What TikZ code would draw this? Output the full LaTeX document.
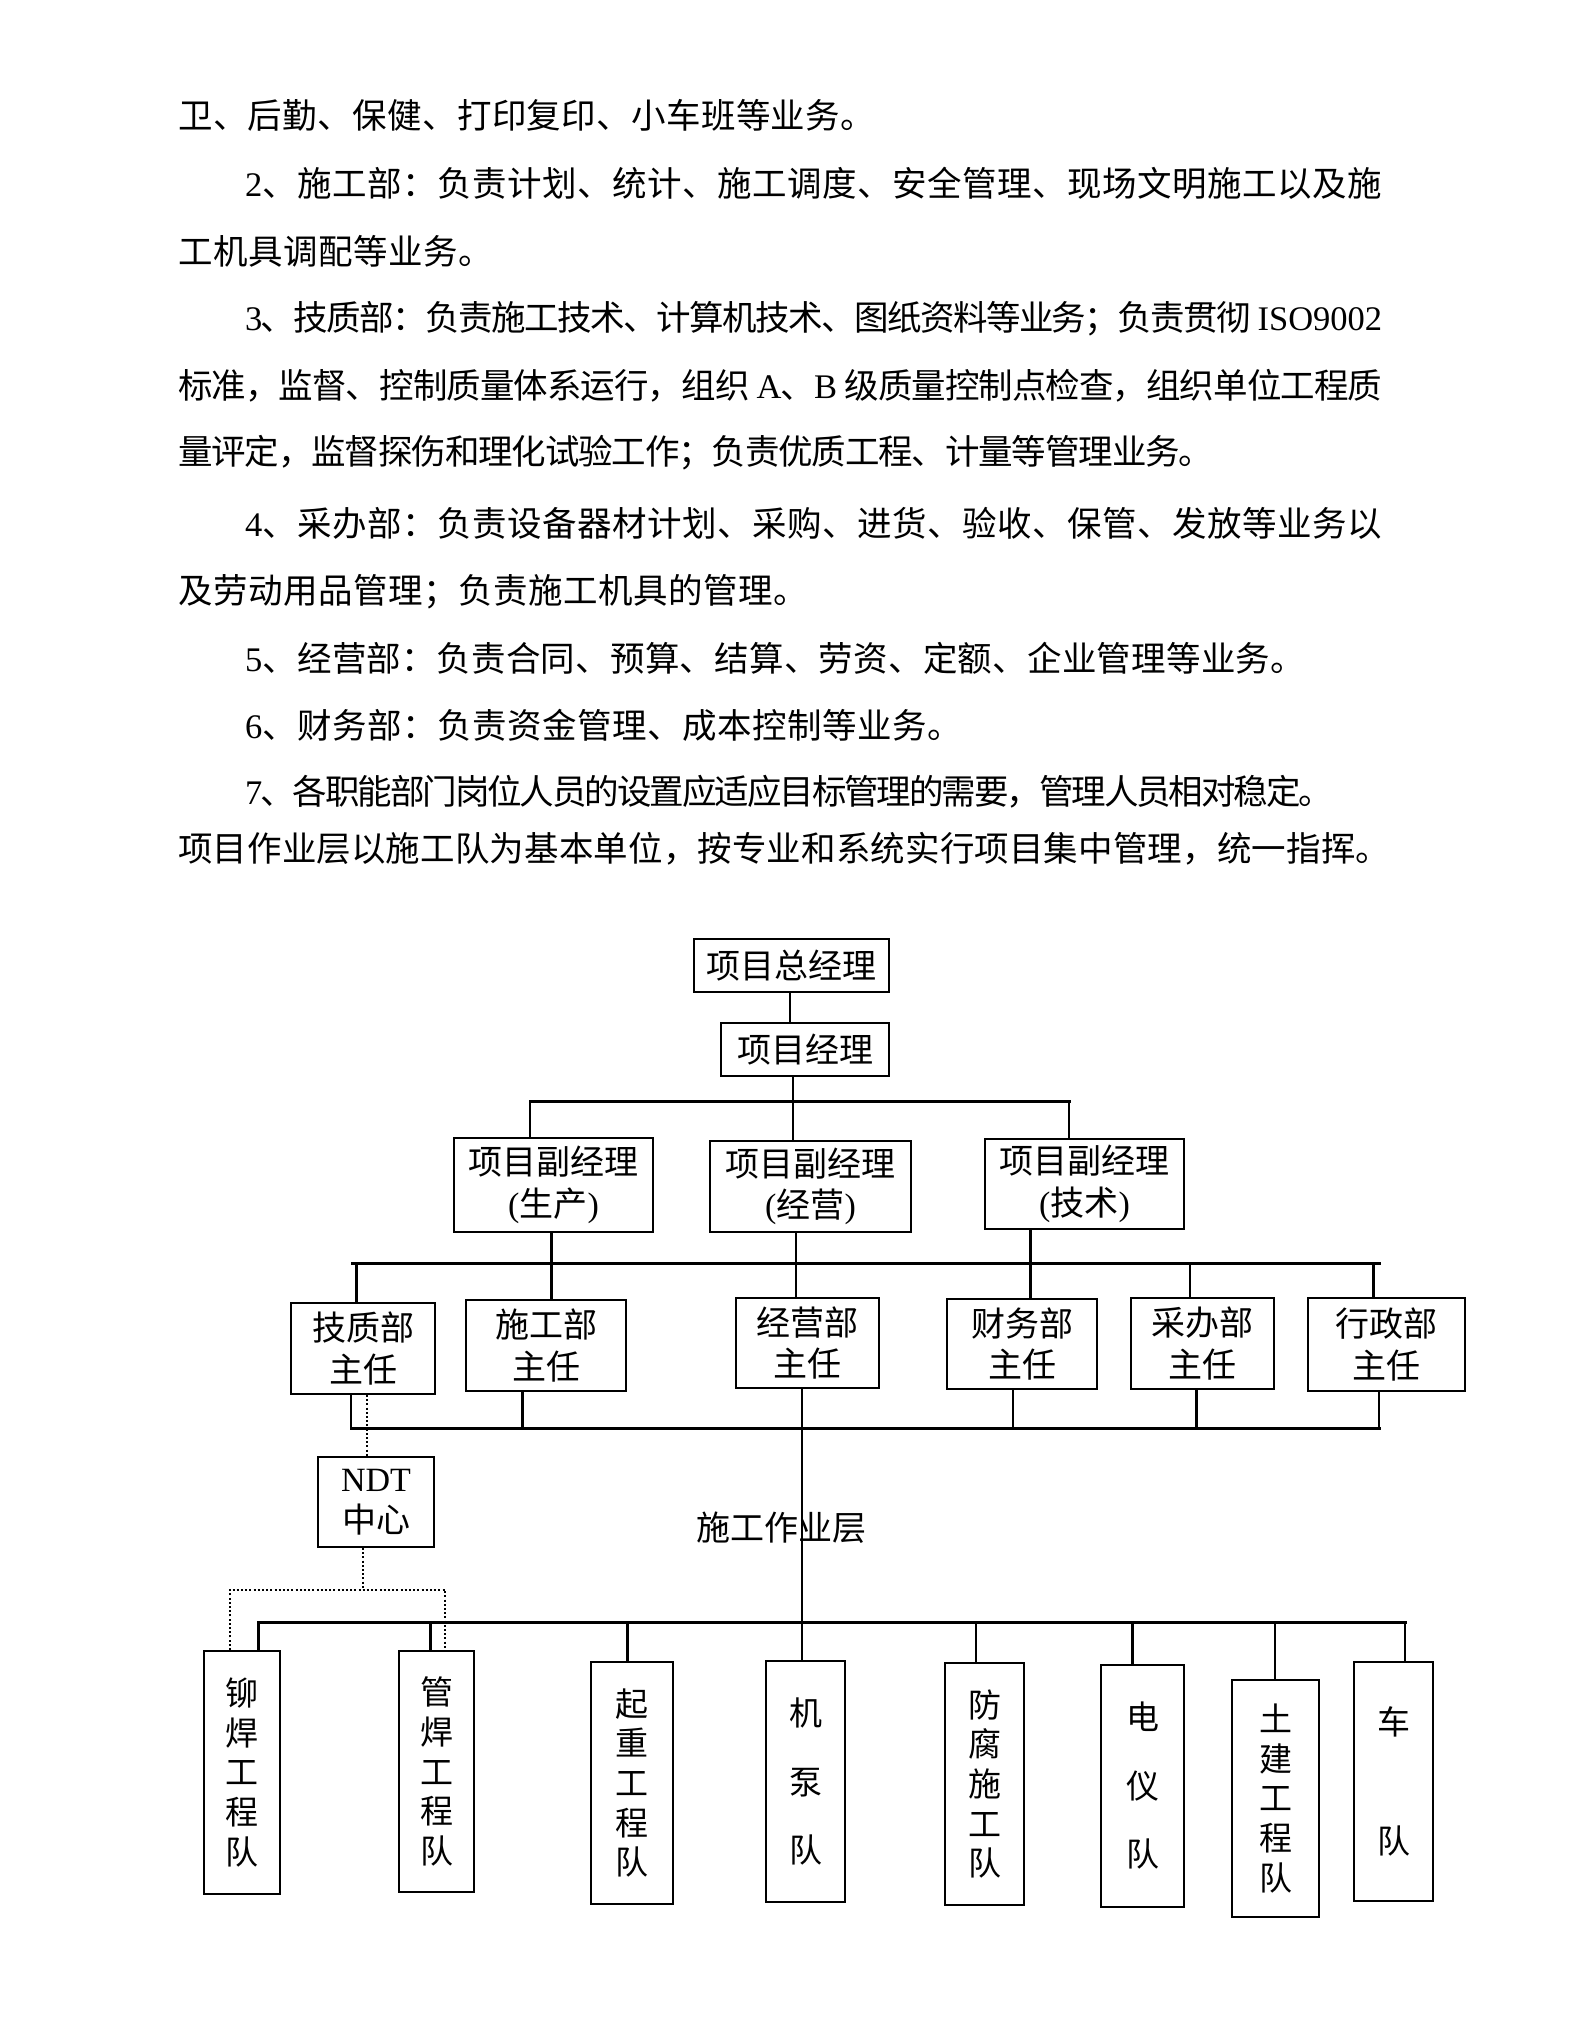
\documentclass[tikz,border=0pt]{standalone}
\usepackage{fontspec}
\setmainfont{Noto Sans CJK SC}
\newfontfamily\latf{Liberation Serif}
\newcommand\lat[1]{{\latf #1}}
\makeatletter
\def\jl@endmark{\jl@end}
\newcommand\jline[2]{\makebox[#1][s]{\jl@first#2\jl@end}}
\def\jl@first#1{#1\jl@loop}
\def\jl@loop#1{\def\jl@arg{#1}\ifx\jl@arg\jl@endmark\else\hskip0pt plus 1fil minus 6pt\relax#1\expandafter\jl@loop\fi}
\makeatother
\tikzset{
  box/.style={draw, line width=2pt, inner sep=0pt, anchor=north west, align=center,
    font=\fontsize{34}{41.5}\selectfont},
  vbox/.style={draw, line width=2pt, inner sep=0pt, anchor=north west, align=center},
  five/.style={font=\fontsize{33}{39.7}\selectfont},
  three/.style={font=\fontsize{33}{68.5}\selectfont},
  two/.style={font=\fontsize{33}{119.5}\selectfont},
  bus/.style={line width=3pt, line cap=rect},
  conn/.style={line width=2.5pt},
  dotc/.style={line width=2pt, dash pattern=on 2pt off 2.2pt},
  body/.style={anchor=west, inner sep=0pt, font=\fontsize{34.5}{40}\selectfont},
}
\begin{document}
\begin{tikzpicture}[x=1pt,y=-1pt]
\useasboundingbox (0,0) rectangle (1582,2028);

% ---- body text ----
\node[body] (l1) at (178,115) {\jline{697pt}{卫、后勤、保健、打印复印、小车班等业务。}};
\node[body] (l2) at (245,183) {\jline{1137pt}{{\lat{2}}、施工部：负责计划、统计、施工调度、安全管理、现场文明施工以及施}};
\node[body] (l3) at (178,251) {\jline{315pt}{工机具调配等业务。}};
\node[body] (l4) at (245,318.5) {\jline{1137pt}{{\lat{3}}、技质部：负责施工技术、计算机技术、图纸资料等业务；负责贯彻{\lat{\ ISO9002}}}};
\node[body] (l5) at (178,385.5) {\jline{1204pt}{标准，监督、控制质量体系运行，组织{\lat{\ A}}、{\lat{B\ }}级质量控制点检查，组织单位工程质}};
\node[body] (l6) at (178,453) {\jline{1035pt}{量评定，监督探伤和理化试验工作；负责优质工程、计量等管理业务。}};
\node[body] (l7) at (245,523) {\jline{1137pt}{{\lat{4}}、采办部：负责设备器材计划、采购、进货、验收、保管、发放等业务以}};
\node[body] (l8) at (178,591.5) {\jline{630pt}{及劳动用品管理；负责施工机具的管理。}};
\node[body] (l9) at (245,658.5) {\jline{1060pt}{{\lat{5}}、经营部：负责合同、预算、结算、劳资、定额、企业管理等业务。}};
\node[body] (l10) at (245,725) {\jline{717pt}{{\lat{6}}、财务部：负责资金管理、成本控制等业务。}};
\node[body] (l11) at (245,791.5) {\jline{1088pt}{{\lat{7}}、各职能部门岗位人员的设置应适应目标管理的需要，管理人员相对稳定。}};
\node[body] (l12) at (178,848.5) {\jline{1212pt}{项目作业层以施工队为基本单位，按专业和系统实行项目集中管理，统一指挥。}};

% ---- org boxes ----
\node[box, minimum width=195pt, minimum height=53pt] (gm) at (693,938) {项目总经理};
\node[box, minimum width=168pt, minimum height=53pt] (pm) at (720,1022) {项目经理};
\node[box, minimum width=199pt, minimum height=94pt] (vp1) at (453,1137) {项目副经理\\\lat{(}生产\lat{)}};
\node[box, minimum width=201pt, minimum height=91pt] (vp2) at (709,1140) {项目副经理\\\lat{(}经营\lat{)}};
\node[box, minimum width=199pt, minimum height=90pt] (vp3) at (984,1138) {项目副经理\\\lat{(}技术\lat{)}};
\node[box, minimum width=144pt, minimum height=91pt] (d1) at (290,1302) {技质部\\主任};
\node[box, minimum width=160pt, minimum height=91pt] (d2) at (465,1299) {施工部\\主任};
\node[box, minimum width=143pt, minimum height=90pt] (d3) at (735,1297) {经营部\\主任};
\node[box, minimum width=150pt, minimum height=90pt] (d4) at (946,1298) {财务部\\主任};
\node[box, minimum width=143pt, minimum height=91pt] (d5) at (1130,1297) {采办部\\主任};
\node[box, minimum width=157pt, minimum height=93pt] (d6) at (1307,1297) {行政部\\主任};
\node[box, minimum width=116pt, minimum height=90pt] (ndt) at (317,1456) {\lat{NDT}\\中心};

\node[vbox, five, minimum width=76pt, minimum height=243pt] (t1) at (203,1650) {铆\\焊\\工\\程\\队};
\node[vbox, five, minimum width=75pt, minimum height=241pt] (t2) at (398,1650) {管\\焊\\工\\程\\队};
\node[vbox, five, minimum width=82pt, minimum height=242pt] (t3) at (590,1661) {起\\重\\工\\程\\队};
\node[vbox, three, minimum width=79pt, minimum height=241pt] (t4) at (765,1660) {机\\泵\\队};
\node[vbox, five, minimum width=79pt, minimum height=242pt] (t5) at (944,1662) {防\\腐\\施\\工\\队};
\node[vbox, three, minimum width=83pt, minimum height=242pt] (t6) at (1100,1664) {电\\仪\\队};
\node[vbox, five, minimum width=87pt, minimum height=237pt] (t7) at (1231,1679) {土\\建\\工\\程\\队};
\node[vbox, two, minimum width=79pt, minimum height=239pt] (t8) at (1353,1661) {车\\队};

\node[inner sep=0pt, font=\fontsize{34}{40}\selectfont] (layer) at (781.7,1528) {施工作业层};

% ---- bus coordinates ----
\coordinate (b1L) at (530,1101);
\coordinate (b1R) at (1069,1101);
\coordinate (b2L) at (352,1263);
\coordinate (b2R) at (1379,1263);
\coordinate (b3L) at (351,1428);
\coordinate (b3R) at (1379,1428);
\coordinate (b4L) at (258.7,1622);
\coordinate (b4R) at (1405,1622);
\coordinate (dL) at (230,1589.5);
\coordinate (dM) at (363,1589.5);
\coordinate (dR) at (445,1589.5);

% ---- connectors ----
\draw[conn] (gm.south -| 790,0) -- (pm.north -| 790,0);
\draw[conn] (pm.south -| 793,0) -- (vp2.north -| 793,0);
\draw[bus] (b1L) -- (b1R);
\draw[conn] (b1L) -- (vp1.north -| b1L);
\draw[conn] (b1R) -- (vp3.north -| b1R);

\draw[conn] (vp1.south -| 551.7,0) -- (d2.north -| 551.7,0);
\draw[conn] (vp2.south -| 796,0) -- (d3.north -| 796,0);
\draw[conn] (vp3.south -| 1030.7,0) -- (d4.north -| 1030.7,0);
\draw[bus] (b2L) -- (b2R);
\draw[conn] (b2L -| 356.7,0) -- (d1.north -| 356.7,0);
\draw[conn] (b2L -| 1190,0) -- (d5.north -| 1190,0);
\draw[conn] (b2L -| 1373.3,0) -- (d6.north -| 1373.3,0);

\draw[conn] (d1.south -| b3L) -- (b3L);
\draw[bus] (b3L) -- (b3R);
\draw[conn] (b3R) -- (d6.south -| b3R);
\draw[conn] (d2.south -| 522.5,0) -- (b3L -| 522.5,0);
\draw[conn] (d4.south -| 1013,0) -- (b3L -| 1013,0);
\draw[conn] (d5.south -| 1196.7,0) -- (b3L -| 1196.7,0);
\draw[conn] (d3.south -| 802,0) -- (t4.north -| 802,0);

\draw[conn] (t1.north -| b4L) -- (b4L);
\draw[bus] (b4L) -- (b4R);
\draw[conn] (b4R) -- (t8.north -| b4R);
\draw[conn] (b4L -| 430.5,0) -- (t2.north -| 430.5,0);
\draw[conn] (b4L -| 627.5,0) -- (t3.north -| 627.5,0);
\draw[conn] (b4L -| 976,0) -- (t5.north -| 976,0);
\draw[conn] (b4L -| 1132.3,0) -- (t6.north -| 1132.3,0);
\draw[conn] (b4L -| 1275,0) -- (t7.north -| 1275,0);

\draw[dotc] (d1.south -| 366.7,0) -- (ndt.north -| 366.7,0);
\draw[dotc] (ndt.south -| dM) -- (dM);
\draw[dotc] (t1.north -| dL) -- (dL) -- (dR) -- (t2.north -| dR);
\end{tikzpicture}
\end{document}
